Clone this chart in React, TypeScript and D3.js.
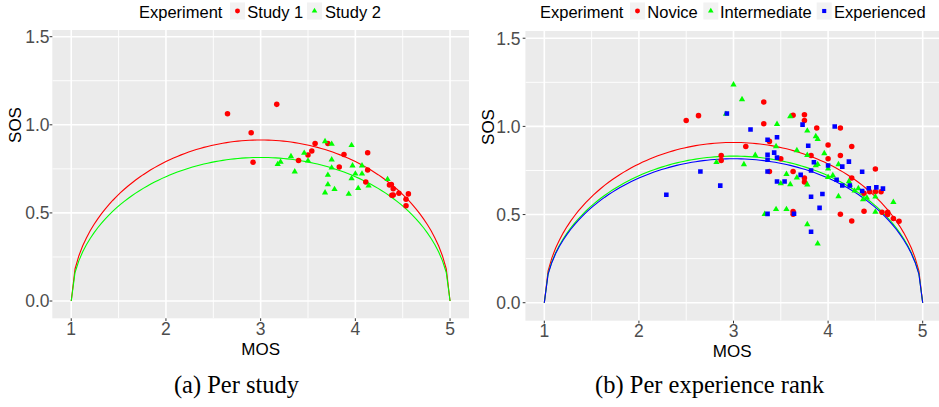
import React from "react";
import * as d3 from "d3";

// ---------- data ----------
const study1: [number, number][] = [
  [2.65, 1.063], [3.17, 1.116], [2.90, 0.955], [2.92, 0.787], [3.40, 0.798],
  [3.50, 0.829], [3.54, 0.851], [3.575, 0.894], [3.71, 0.894], [3.88, 0.831],
  [3.83, 0.760], [4.13, 0.841], [4.13, 0.743], [4.11, 0.676], [4.36, 0.659],
  [4.38, 0.661], [4.40, 0.637], [4.385, 0.600], [4.40, 0.601], [4.46, 0.611],
  [4.56, 0.608], [4.535, 0.577], [4.535, 0.541],
];
const study2: [number, number][] = [
  [3.68, 0.906], [3.75, 0.891], [3.96, 0.884], [3.46, 0.840], [3.32, 0.821],
  [3.21, 0.789], [3.18, 0.776], [3.50, 0.796], [3.36, 0.734], [3.75, 0.802],
  [3.75, 0.756], [3.97, 0.768], [4.07, 0.768], [3.71, 0.715], [4.00, 0.722],
  [4.07, 0.722], [3.96, 0.695], [3.71, 0.661], [3.78, 0.634], [3.68, 0.615],
  [3.93, 0.607], [4.03, 0.640], [4.14, 0.654], [4.34, 0.691],
];
const novice: [number, number][] = [
  [2.50, 1.034], [2.63, 1.061], [2.87, 0.835], [2.87, 0.807], [3.13, 0.886],
  [3.32, 1.138], [3.32, 1.015], [3.38, 0.915], [3.38, 0.744], [3.50, 0.816],
  [3.63, 1.063], [3.63, 0.744], [3.63, 0.517], [3.63, 0.502], [3.75, 1.066],
  [3.75, 1.034], [3.75, 0.707], [3.75, 0.684], [3.82, 0.835], [3.88, 0.991],
  [4.00, 0.894], [4.00, 0.816], [4.13, 0.991], [4.13, 0.835], [4.13, 0.502],
  [4.25, 0.886], [4.25, 0.707], [4.25, 0.464], [4.38, 0.621], [4.38, 0.519],
  [4.44, 0.629], [4.50, 0.758], [4.50, 0.629], [4.56, 0.629], [4.57, 0.513],
  [4.63, 0.513], [4.63, 0.500], [4.69, 0.478], [4.75, 0.462],
];
const intermediate: [number, number][] = [
  [2.82, 0.797], [2.92, 1.070], [3.00, 1.237], [3.09, 1.153], [3.11, 0.784],
  [3.23, 0.837], [3.33, 0.502], [3.45, 0.886], [3.45, 0.530], [3.46, 1.013],
  [3.50, 0.676], [3.56, 0.729], [3.56, 0.530], [3.60, 1.057], [3.60, 0.671],
  [3.67, 0.864], [3.67, 0.709], [3.78, 0.975], [3.78, 0.837], [3.78, 0.670],
  [3.78, 0.444], [3.87, 0.943], [3.87, 0.778], [3.89, 0.928], [3.89, 0.785],
  [3.89, 0.335], [3.96, 0.847], [4.00, 0.760], [4.00, 0.712], [4.05, 0.722],
  [4.11, 0.784], [4.11, 0.603], [4.22, 0.688], [4.23, 0.669], [4.28, 0.635],
  [4.32, 0.648], [4.37, 0.585], [4.41, 0.595], [4.50, 0.601], [4.50, 0.515],
  [4.69, 0.570],
];
const experienced: [number, number][] = [
  [2.29, 0.612], [2.65, 0.744], [2.86, 0.664], [2.93, 1.073], [3.18, 0.982],
  [3.36, 0.924], [3.36, 0.839], [3.36, 0.811], [3.36, 0.744], [3.36, 0.504],
  [3.43, 0.851], [3.46, 0.938], [3.46, 0.823], [3.46, 0.687], [3.54, 0.687],
  [3.64, 0.505], [3.71, 0.725], [3.73, 1.010], [3.79, 0.890], [3.82, 0.750],
  [3.82, 0.601], [3.82, 0.402], [3.85, 0.797], [3.91, 0.538], [3.94, 0.617],
  [4.00, 0.778], [4.07, 0.999], [4.09, 0.697], [4.15, 0.772], [4.15, 0.665],
  [4.22, 0.800], [4.23, 0.665], [4.36, 0.743], [4.36, 0.634], [4.43, 0.649],
  [4.51, 0.654], [4.58, 0.647],
];

// SOS hypothesis parameters (SOS^2 = a * (-MOS^2 + 6 MOS - 5))
const sosParamA = [0.2088, 0.166];
const sosParamB = [0.2066, 0.1728, 0.1666];

const xTicks = [1, 2, 3, 4, 5];
const xMinor = [1.5, 2.5, 3.5, 4.5];
const yTicks = [0, 0.5, 1.0, 1.5];
const yMinor = [0.25, 0.75, 1.25];
const yTickLabels = ["0.0", "0.5", "1.0", "1.5"];

const legendTitle = "Experiment";
const labelsA = ["Study 1", "Study 2"];
const labelsB = ["Novice", "Intermediate", "Experienced"];
const captions = ["(a) Per study", "(b) Per experience rank"];

const COLORS = ["#FF0000", "#00FF00", "#0000FF"];
const SHAPES = [d3.symbolCircle, d3.symbolTriangle, d3.symbolSquare];
const SIZES = [24, 17, 21];

const SANS = "'Liberation Sans', Arial, Helvetica, sans-serif";
const SERIF = "'Liberation Serif', 'Times New Roman', serif";

function sosCurve(a: number): [number, number][] {
  const n = 101;
  const pts: [number, number][] = [];
  for (let i = 0; i < n; i++) {
    const m = 1 + (4 * i) / (n - 1);
    const v = Math.max(0, a * (-m * m + 6 * m - 5));
    pts.push([m, Math.sqrt(v)]);
  }
  return pts;
}

interface PanelProps {
  left: number; right: number; top: number; bottom: number;
  yDom: [number, number];
  series: [number, number][][];
  params: number[];
  labels: string[];
  legend: { titleX: number; boxX: number[]; textX: number[] };
  caption: string; captionX: number;
  yLabelEnd: number; xLabelBase: number; xTitleBase: number;
  yTitleX: number; yTitleY: number;
  id: string;
}

function Panel(p: PanelProps) {
  const x = d3.scaleLinear().domain([0.8, 5.2]).range([p.left, p.right]);
  const y = d3.scaleLinear().domain(p.yDom).range([p.bottom, p.top]);
  const line = d3.line<[number, number]>().x((d) => x(d[0])).y((d) => y(d[1]));
  const cx = (p.left + Math.min(p.right, 939)) / 2;
  return (
    <g>
      <defs>
        <clipPath id={p.id}>
          <rect x={p.left} y={p.top} width={p.right - p.left} height={p.bottom - p.top} />
        </clipPath>
      </defs>
      <rect x={p.left} y={p.top} width={p.right - p.left} height={p.bottom - p.top} fill="#EBEBEB" />
      <g clipPath={`url(#${p.id})`}>
        {xMinor.map((t) => (
          <line key={"xm" + t} x1={x(t)} x2={x(t)} y1={p.top} y2={p.bottom} stroke="#fff" strokeWidth={0.9} />
        ))}
        {yMinor.map((t) => (
          <line key={"ym" + t} y1={y(t)} y2={y(t)} x1={p.left} x2={p.right} stroke="#fff" strokeWidth={0.9} />
        ))}
        {xTicks.map((t) => (
          <line key={"xM" + t} x1={x(t)} x2={x(t)} y1={p.top} y2={p.bottom} stroke="#fff" strokeWidth={1.6} />
        ))}
        {yTicks.map((t) => (
          <line key={"yM" + t} y1={y(t)} y2={y(t)} x1={p.left} x2={p.right} stroke="#fff" strokeWidth={1.6} />
        ))}
        {p.params.map((a, i) => (
          <path key={"c" + i} d={line(sosCurve(a)) || ""} fill="none" stroke={COLORS[i]} strokeWidth={1.1} />
        ))}
        {p.series.map((s, i) =>
          s.map((d, j) => (
            <path
              key={`p${i}-${j}`}
              d={d3.symbol().type(SHAPES[i]).size(SIZES[i])() || ""}
              transform={`translate(${x(d[0])},${y(d[1])})`}
              fill={COLORS[i]}
            />
          ))
        )}
      </g>
      {yTicks.map((t, i) => (
        <g key={"yt" + t}>
          <line x1={p.left - 2.7} x2={p.left} y1={y(t)} y2={y(t)} stroke="#333" strokeWidth={1} />
          <text x={p.yLabelEnd} y={y(t)} dy="0.36em" textAnchor="end" fontFamily={SANS} fontSize={17.5} fill="#4D4D4D">
            {yTickLabels[i]}
          </text>
        </g>
      ))}
      {xTicks.map((t) => (
        <g key={"xt" + t}>
          <line x1={x(t)} x2={x(t)} y1={p.bottom} y2={p.bottom + 2.7} stroke="#333" strokeWidth={1} />
          <text x={x(t)} y={p.xLabelBase} textAnchor="middle" fontFamily={SANS} fontSize={17.5} fill="#4D4D4D">
            {t}
          </text>
        </g>
      ))}
      <text x={cx} y={p.xTitleBase} textAnchor="middle" fontFamily={SANS} fontSize={17} fill="#000">MOS</text>
      <text
        transform={`translate(${p.yTitleX},${p.yTitleY}) rotate(-90)`}
        textAnchor="middle" fontFamily={SANS} fontSize={17} fill="#000"
      >SOS</text>
      <text x={p.legend.titleX} y={17.5} fontFamily={SANS} fontSize={16.5} fill="#000">{legendTitle}</text>
      {p.labels.map((lab, i) => (
        <g key={"lg" + i}>
          <rect x={p.legend.boxX[i]} y={2.5} width={15} height={17} fill="#F2F2F2" />
          <path
            d={d3.symbol().type(SHAPES[i]).size(SIZES[i] * 0.8)() || ""}
            transform={`translate(${p.legend.boxX[i] + 7.5},${11})`}
            fill={COLORS[i]}
          />
          <text x={p.legend.textX[i]} y={17.5} fontFamily={SANS} fontSize={16.5} fill="#000">{lab}</text>
        </g>
      ))}
      <text x={p.captionX} y={393} textAnchor="middle" fontFamily={SERIF} fontSize={24.5} fill="#000">{p.caption}</text>
    </g>
  );
}

export default function App() {
  return (
    <svg width={939} height={407} style={{ position: "absolute", left: 0, top: 0, background: "#fff" }}>
      <Panel
        id="clipA"
        left={52.3} right={469} top={30} bottom={318.3}
        yDom={[-0.098, 1.538]}
        series={[study1, study2]}
        params={sosParamA}
        labels={labelsA}
        legend={{ titleX: 139, boxX: [230, 307], textX: [247.3, 325] }}
        caption={captions[0]} captionX={236.5}
        yLabelEnd={49.5} xLabelBase={335} xTitleBase={355}
        yTitleX={20.7} yTitleY={125}
      />
      <Panel
        id="clipB"
        left={525.4} right={941.6} top={31} bottom={320.7}
        yDom={[-0.102, 1.541]}
        series={[novice, intermediate, experienced]}
        params={sosParamB}
        labels={labelsB}
        legend={{ titleX: 540, boxX: [630, 703.3, 816.7], textX: [647.3, 720, 834] }}
        caption={captions[1]} captionX={709.7}
        yLabelEnd={520.5} xLabelBase={336.5} xTitleBase={356.5}
        yTitleX={494.3} yTitleY={127}
      />
    </svg>
  );
}
